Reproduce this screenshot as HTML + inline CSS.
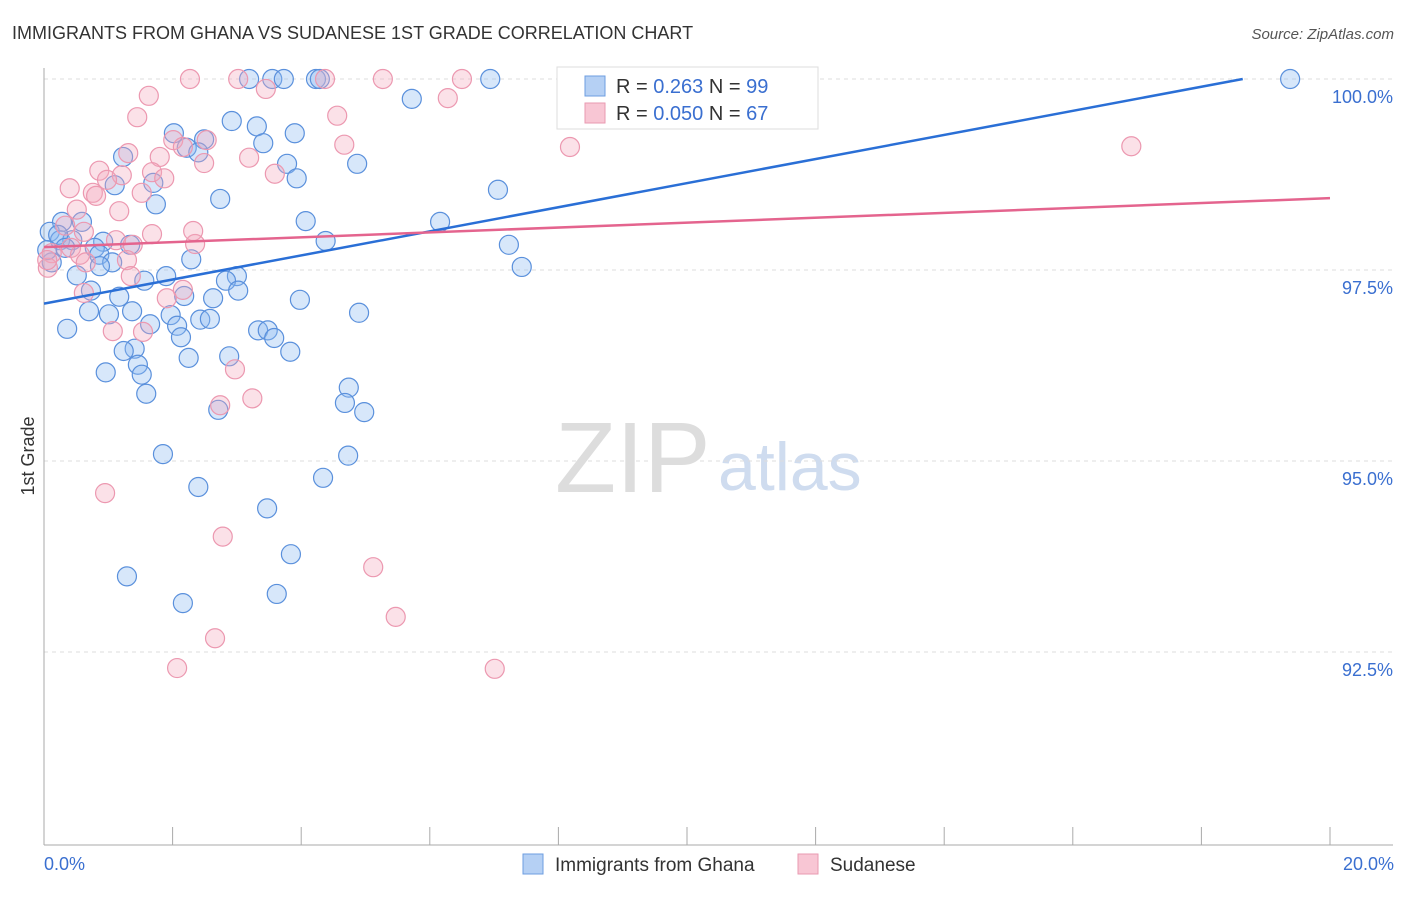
<!DOCTYPE html>
<html><head><meta charset="utf-8"><style>
body{margin:0;background:#fff;font-family:"Liberation Sans",sans-serif}
svg text{font-family:"Liberation Sans",sans-serif}
</style></head><body>
<svg id="c" width="1406" height="892">
<text x="12" y="39" font-size="18" fill="#333">IMMIGRANTS FROM GHANA VS SUDANESE 1ST GRADE CORRELATION CHART</text>
<text x="1394" y="39" font-size="15" fill="#555" font-style="italic" text-anchor="end">Source: ZipAtlas.com</text>
<text x="34" y="456" font-size="18" fill="#333" transform="rotate(-90 34 456)" text-anchor="middle">1st Grade</text>
<g>
<text x="555" y="492" font-size="100" fill="#ddd" font-family="Liberation Serif,serif">ZIP</text>
<text x="718" y="490" font-size="68" fill="#cfdcef">atlas</text>
</g>
<g id="grid"></g><g id="pts"></g><g id="lines"></g>
<g>
<rect x="557" y="67" width="261" height="62" fill="#fff" stroke="#ddd"/>
<rect x="585" y="76" width="20" height="20" fill="#b5d0f4" stroke="#6d9ee0"/>
<text x="616" y="93" font-size="20" fill="#333">R = <tspan fill="#3a6fd0">0.263</tspan>   N = <tspan fill="#3a6fd0">99</tspan></text>
<rect x="585" y="103" width="20" height="20" fill="#f8c6d4" stroke="#e99ab1"/>
<text x="616" y="120" font-size="20" fill="#333">R = <tspan fill="#3a6fd0">0.050</tspan>   N = <tspan fill="#3a6fd0">67</tspan></text>
</g>
<g>
<rect x="523" y="854" width="20" height="20" fill="#b5d0f4" stroke="#6d9ee0"/>
<text x="555" y="871" font-size="19" fill="#333">Immigrants from Ghana</text>
<rect x="798" y="854" width="20" height="20" fill="#f8c6d4" stroke="#e99ab1"/>
<text x="830" y="871" font-size="19" fill="#333">Sudanese</text>
</g>
<text x="44" y="870" font-size="18" fill="#3a6fd0">0.0%</text>
<text x="1394" y="870" font-size="18" fill="#3a6fd0" text-anchor="end">20.0%</text>
</svg>
<script>
const yTicks=[100,97.5,95,92.5];
const yTickLabels=["100.0%","97.5%","95.0%","92.5%"];
const xTicks=[0,2,4,6,8,10,12,14,16,18,20];
const ghanaX=[3.19,3.55,3.73,4.23,4.29,6.94,8.23,19.38,5.72,2.92,3.31,3.90,2.02,2.49,3.41,2.22,1.23,3.78,4.87,2.40,3.93,1.70,1.10,7.06,2.74,1.74,0.28,0.59,4.07,6.16,0.09,0.25,0.44,0.92,1.34,4.38,7.23,0.79,0.86,1.06,2.29,0.87,7.43,0.51,1.56,1.90,3.0,2.83,0.73,2.18,2.63,3.02,1.17,3.98,0.70,1.37,1.01,1.97,2.43,2.58,4.90,1.65,2.07,2.13,0.36,3.33,3.48,3.58,1.41,1.24,3.83,2.25,2.88,1.46,0.96,1.52,4.74,1.59,4.68,4.98,2.71,1.85,4.73,4.34,2.40,3.47,3.84,1.29,2.16,3.62,0.22,0.33,0.12,0.05];
const ghanaY=[100,100,100,100,100,100,100,100,99.74,99.45,99.38,99.29,99.29,99.21,99.16,99.10,98.98,98.89,98.89,99.04,98.70,98.64,98.61,98.55,98.43,98.36,98.13,98.13,98.14,98.13,98.0,97.89,97.89,97.87,97.83,97.88,97.83,97.79,97.70,97.60,97.64,97.55,97.54,97.43,97.36,97.42,97.42,97.36,97.23,97.16,97.13,97.23,97.15,97.11,96.96,96.96,96.92,96.91,96.85,96.86,96.94,96.79,96.77,96.62,96.73,96.71,96.71,96.61,96.47,96.44,96.43,96.35,96.37,96.26,96.16,96.13,95.96,95.88,95.76,95.64,95.67,95.09,95.07,94.78,94.66,94.38,93.78,93.49,93.14,93.26,97.96,97.79,97.60,97.76];
const sudX=[2.27,3.02,4.37,5.27,6.50,3.45,1.63,6.28,1.45,4.56,2.53,2.01,2.16,4.67,8.18,16.91,1.31,1.80,3.19,2.49,0.86,1.68,1.21,3.59,0.98,1.87,0.40,0.76,0.81,1.52,0.51,1.17,1.68,0.33,0.62,1.12,1.38,2.35,0.12,0.42,0.56,0.65,1.29,0.06,0.05,1.35,2.16,0.62,1.91,1.07,1.54,2.97,2.74,3.24,0.95,2.78,5.12,5.47,2.66,2.07,7.01,2.32];
const sudY=[100,100,100,100,100,99.87,99.78,99.75,99.5,99.52,99.20,99.20,99.11,99.14,99.11,99.12,99.03,98.98,98.97,98.90,98.80,98.78,98.74,98.76,98.68,98.70,98.57,98.51,98.47,98.51,98.29,98.27,97.97,98.08,98.0,97.89,97.83,97.84,97.72,97.79,97.70,97.60,97.63,97.53,97.63,97.42,97.24,97.20,97.13,96.70,96.69,96.20,95.73,95.82,94.58,94.01,93.61,92.96,92.68,92.29,92.28,98.01];
const ghanaTrend=[97.06,0.1577];
const sudTrend=[97.80,0.032];
const NS="http://www.w3.org/2000/svg";
const X=v=>44+v*64.3, Y=v=>79+(100-v)*76.4;
function mk(t,a,p){const e=document.createElementNS(NS,t);for(const k in a)e.setAttribute(k,a[k]);p.appendChild(e);return e;}
const g=document.getElementById('grid');
yTicks.forEach((t,i)=>{
 const l=mk('line',{x1:44,x2:1393,y1:Y(t),y2:Y(t),stroke:'#ddd','stroke-dasharray':'4,4'},g);
 
 
 const tx=mk('text',{x:1393,y:Y(t)+24,'font-size':18,fill:'#3a6fd0','text-anchor':'end'},g);
 tx.textContent=yTickLabels[i];
 
 
});
const ax=mk('line',{x1:44,x2:44,y1:68,y2:845,stroke:'#aaa'},g);


const bx=mk('line',{x1:44,x2:1393,y1:845,y2:845,stroke:'#aaa'},g);


xTicks.forEach(t=>{const l=mk('line',{x1:X(t),x2:X(t),y1:827,y2:845,stroke:'#aaa'},g);
 
 });
const P=document.getElementById('pts');
ghanaX.forEach((x,i)=>{const c=mk('circle',{cx:X(x),cy:Y(ghanaY[i]),r:9.5,fill:'rgba(140,185,240,0.35)',stroke:'#5a90dc','stroke-width':1.2},P);
 
 });
sudX.forEach((x,i)=>{const c=mk('circle',{cx:X(x),cy:Y(sudY[i]),r:9.5,fill:'rgba(244,168,190,0.35)',stroke:'#ec98b0','stroke-width':1.2},P);
 
 });
const L=document.getElementById('lines');
const xe=Math.min(20,(100-ghanaTrend[0])/ghanaTrend[1]);
const bl=mk('line',{x1:X(0),y1:Y(ghanaTrend[0]),x2:X(xe),y2:Y(ghanaTrend[0]+ghanaTrend[1]*xe),stroke:'#2a6fd6','stroke-width':2.5},L);


const pl=mk('line',{x1:X(0),y1:Y(sudTrend[0]),x2:X(20),y2:Y(sudTrend[0]+sudTrend[1]*20),stroke:'#e4648e','stroke-width':2.5},L);


</script>
</body></html>
